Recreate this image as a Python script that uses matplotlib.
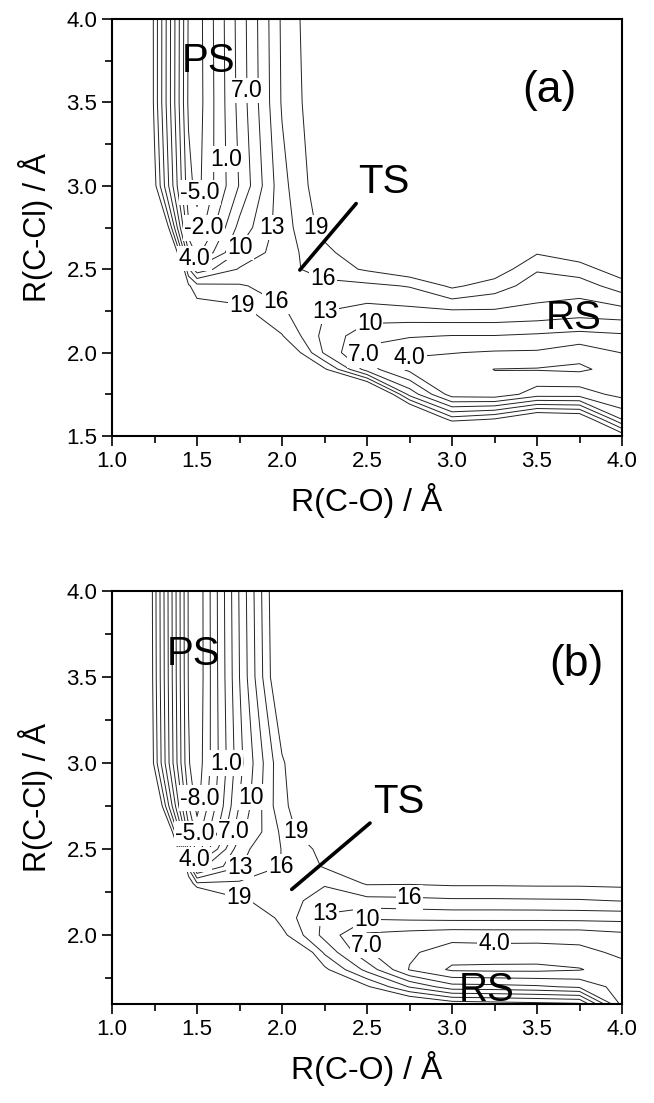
import numpy as np
import matplotlib
matplotlib.use('Agg')
import matplotlib.pyplot as plt
from matplotlib.ticker import MultipleLocator

plt.rcParams['font.family'] = ['Liberation Sans', 'DejaVu Sans']

# contour levels (kcal/mol)
levels = [-8, -5, -2, 1, 4, 7, 10, 13, 16, 19]

# ---- panel (a): energy grid ----
r_co_a = [1.0, 1.25, 1.45, 1.5, 1.75, 2.0, 2.25, 2.5, 2.75, 3.0, 3.25, 3.5, 3.75, 4.0]
r_ccl_a = [1.5, 1.6, 1.75, 1.9, 2.0, 2.1, 2.25, 2.4, 2.5, 2.6, 2.75, 3.0, 3.5, 4.0]
energy_a = [
    [100, 100, 100, 100, 100, 95, 80, 60, 45, 32, 35, 40, 42, 21],
    [100, 100, 100, 100, 95, 80, 65, 48, 30, 17.5, 19.3, 24, 23, 10],
    [100, 100, 90, 85, 75, 60, 42, 30, 12, 2.5, 2.0, 5.5, 5.5, 3.0],
    [100, 100, 75, 65, 55, 40, 19.5, 8.5, 3.2, 2.3, 0.95, 0.8, 0.5, 2.2],
    [100, 100, 60, 50, 40, 24, 12.5, 6.2, 4.3, 4.1, 3.7, 3.6, 2.0, 4.1],
    [100, 95, 45, 35, 28, 19.2, 12.0, 8.0, 7.3, 6.9, 6.9, 6.5, 6.0, 6.5],
    [95, 85, 30, 21, 20, 16.4, 13.05, 12.0, 12.3, 12.7, 12.7, 12.3, 11.5, 12.0],
    [85, 70, 19.5, 17.0, 16.3, 14.8, 15.0, 15.3, 16.2, 19.6, 17.5, 14.5, 14.5, 17.5],
    [75, 55, 13.5, 8.0, 13.3, 14.8, 17.5, 19.4, 21.5, 26, 21, 16.3, 17.5, 21],
    [70, 49, 4.3, 0.0, 10.5, 14.6, 18.1, 21.6, 25, 30, 26, 19.3, 21, 24],
    [62, 33.5, -1.5, -4.0, 8.0, 14.5, 20.2, 24, 27, 30, 28, 24, 25, 27],
    [58, 20, -4.0, -6.0, 4.2, 15.0, 21.5, 26, 29, 31, 31, 29, 29, 30],
    [55, 18, -5.5, -6.6, 5.0, 16.3, 22, 27, 30, 32, 33, 33, 33, 33],
    [54, 18, -5.3, -6.5, 5.2, 16.5, 22.4, 28, 31, 33, 34, 35, 35, 35],
]
# (level, x, y) where Origin put the contour labels
labels_a = [(7, 1.78, 3.57), (1, 1.675, 3.16), (-5, 1.545, 2.955), (-2, 1.535, 2.75),
            (4, 1.50, 2.58), (10, 1.745, 2.635), (13, 1.955, 2.75), (19, 2.20, 2.75),
            (16, 2.25, 2.47), (19, 1.755, 2.27), (16, 1.98, 2.34), (13, 2.25, 2.25),
            (10, 2.515, 2.17), (7, 2.495, 2.0), (4, 2.745, 2.0)]

# ---- panel (b) ----
r_co_b = [1.0, 1.25, 1.45, 1.5, 1.75, 2.0, 2.25, 2.5, 2.75, 3.0, 3.25, 3.5, 3.75, 4.0]
r_ccl_b = [1.6, 1.7, 1.8, 1.9, 2.0, 2.1, 2.2, 2.3, 2.4, 2.5, 2.6, 2.75, 3.0, 3.5, 4.0]
energy_b = [
    [100, 100, 100, 100, 90, 70, 45, 28, 24, 21, 20.5, 20, 19.5, 3.0],
    [100, 100, 100, 95, 80, 55, 30, 19.5, 12.8, 8.2, 8.0, 7.5, 6.5, 2.5],
    [100, 100, 90, 85, 65, 40, 19.8, 12, 3.8, 0.5, 0.3, 0.3, 0.8, 2.8],
    [100, 100, 80, 70, 50, 28, 15.5, 7.3, 4.5, 2.4, 2.6, 2.5, 3.0, 4.7],
    [100, 100, 65, 55, 38, 20, 12.0, 6.5, 5.8, 5.2, 5.3, 5.3, 5.3, 6.2],
    [100, 100, 50, 40, 25, 17.8, 12.5, 10.3, 10.6, 10.8, 10.8, 10.8, 10.9, 11.0],
    [100, 90, 35, 28, 19.5, 17.5, 14.5, 15.0, 15.2, 15.5, 15.5, 15.6, 15.7, 16.1],
    [90, 80, 22, 16.5, 16.5, 17.0, 16.3, 19.3, 19.2, 19.5, 19.5, 19.6, 19.6, 19.8],
    [80, 70, 15, 5.5, 12.8, 16.1, 19.3, 26, 25, 26, 26, 26, 26, 25],
    [72, 55, 3.0, -3.5, 12.0, 16.1, 20.1, 24, 27, 28, 28, 28, 28, 28],
    [66, 41, -0.8, -6.5, 9.0, 16.6, 24.1, 26, 28, 29, 29, 29, 29, 29],
    [62, 26, -4.8, -9.0, 7.2, 18.3, 23, 27, 29, 30, 30, 30, 30, 30],
    [58, 18.0, -7.7, -10.0, 6.0, 18.5, 26, 29, 31, 32, 32, 32, 32, 32],
    [56, 17.3, -8.2, -10.5, 7.0, 23.5, 30, 32, 33, 34, 34, 34, 34, 34],
    [55, 17.1, -8.3, -10.5, 7.3, 24, 30, 32, 33, 34, 34, 34, 34, 34],
]
labels_b = [(1, 1.70, 3.0), (-8, 1.54, 2.795), (10, 1.85, 2.80), (-5, 1.48, 2.59),
            (7, 1.74, 2.59), (4, 1.495, 2.445), (13, 1.75, 2.40), (16, 2.0, 2.39),
            (19, 1.75, 2.22), (19, 2.08, 2.60), (16, 2.75, 2.23), (13, 2.25, 2.135),
            (10, 2.50, 2.10), (7, 2.50, 1.94), (4, 3.25, 1.96)]

# TS pointer: (saddle end, text end), state labels, panel tags
ts_a = [(2.105, 2.495), (2.45, 2.91)]
ts_b = [(2.057, 2.266), (2.534, 2.665)]
states_a = [('PS', 1.41, 3.68), ('RS', 3.55, 2.14)]
states_b = [('PS', 1.32, 3.57), ('RS', 3.04, 1.62)]


def fmt(v):
    return f'{v:.1f}' if abs(v) < 10 else f'{v:.0f}'


def draw(ax, x, y, z, ylo, labs, ts, states, tag, tag_x):
    X, Y = np.meshgrid(x, y)
    Z = np.array(z)
    ax.contour(X, Y, Z, levels=levels, colors='#222222',
               linewidths=0.7, linestyles='solid')
    # one label per spot, placed on the named level
    for lev, lx, ly in labs:
        one = ax.contour(X, Y, Z, levels=[lev], colors='black', linewidths=0)
        txts = one.clabel(manual=[(lx, ly)], inline=False, fmt=fmt,
                          fontsize=16.5, colors='black')
        for t in txts:
            t.set_rotation(0)
            t.set_bbox(dict(boxstyle='square,pad=0.05', fc='white', ec='none'))
    ax.annotate('TS', xy=ts[0], xytext=ts[1], ha='left', va='bottom',
                fontsize=29, zorder=8,
                arrowprops=dict(arrowstyle='-', lw=2.6, color='black',
                                relpos=(0, 0), shrinkA=0, shrinkB=0))
    for name, sx, sy in states:
        ax.text(sx, sy, name, fontsize=29, ha='left', va='baseline')
    ax.text(tag_x, 3.57, tag, fontsize=32, ha='center', va='center')

    ax.set_xlim(1.0, 4.0)
    ax.set_ylim(ylo, 4.0)
    ax.xaxis.set_major_locator(MultipleLocator(0.5))
    ax.xaxis.set_minor_locator(MultipleLocator(0.25))
    ax.yaxis.set_major_locator(MultipleLocator(0.5))
    ax.yaxis.set_minor_locator(MultipleLocator(0.25))
    ax.xaxis.set_major_formatter(plt.FormatStrFormatter('%.1f'))
    ax.yaxis.set_major_formatter(plt.FormatStrFormatter('%.1f'))
    ax.tick_params(which='both', direction='out', width=1.2, labelsize=16)
    ax.tick_params(which='major', length=7)
    ax.tick_params(which='minor', length=5)
    for s in ax.spines.values():
        s.set_linewidth(1.5)
    ax.set_xlabel('R(C-O) / Å', fontsize=23, labelpad=8)
    ax.set_ylabel('R(C-Cl) / Å', fontsize=22, labelpad=10)


fig = plt.figure(figsize=(6.54, 11.03), dpi=100)
ax_a = fig.add_axes([112 / 654, 1 - 436 / 1103, 510 / 654, 417 / 1103])
ax_b = fig.add_axes([112 / 654, 1 - 1004 / 1103, 510 / 654, 413 / 1103])

draw(ax_a, r_co_a, r_ccl_a, energy_a, 1.5, labels_a, ts_a, states_a, '(a)', 3.57)
draw(ax_b, r_co_b, r_ccl_b, energy_b, 1.6, labels_b, ts_b, states_b, '(b)', 3.73)

fig.savefig('out.png', dpi=100)
